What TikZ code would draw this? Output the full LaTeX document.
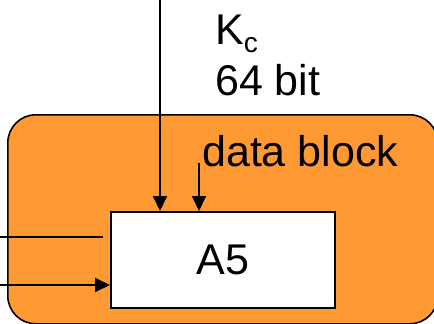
\documentclass[tikz,border=0pt]{standalone}
\usepackage{fontspec}
\setmainfont{Liberation Sans}
\usetikzlibrary{arrows.meta}
\definecolor{boxorange}{HTML}{FF9933}
\tikzset{
  conn/.style={line width=2pt},
  arr/.style={conn, -{Triangle[length=15pt,width=14pt]}},
  lbl/.style={anchor=base west, inner sep=0pt, font=\fontsize{43}{50}\selectfont},
}
\begin{document}
\begin{tikzpicture}[x=1pt,y=-1pt]
\useasboundingbox (0,0) rectangle (434,324);
\node[draw=black, line width=1.6pt, fill=boxorange, rounded corners=28pt,
      minimum width=430pt, minimum height=209pt, inner sep=0pt, anchor=north west]
      (outer) at (7,114) {};
\node[draw=black, line width=2pt, fill=white, minimum width=224pt, minimum height=96pt,
      inner sep=0pt, font=\fontsize{43}{50}\selectfont] (a5) at (223,260) {A5};
\node[lbl] (kc) at (215,44) {K{\fontsize{28}{30}\selectfont\raisebox{-9pt}{c}}};
\node[lbl] (bits) at (215,95) {64 bit};
\node[lbl] (data) at (202,166) {data block};
\coordinate (kin) at (160,-5);
\coordinate (din) at (199,163);
\coordinate (l1s) at (-5,237);
\coordinate (l1e) at (103,237);
\coordinate (l2s) at (-5,285);
\draw[arr] (kin) -- (kin |- a5.north);
\draw[arr] (din) -- (din |- a5.north);
\draw[conn] (l1s) -- (l1e);
\draw[arr] (l2s) -- (l2s -| a5.west);
\end{tikzpicture}
\end{document}
